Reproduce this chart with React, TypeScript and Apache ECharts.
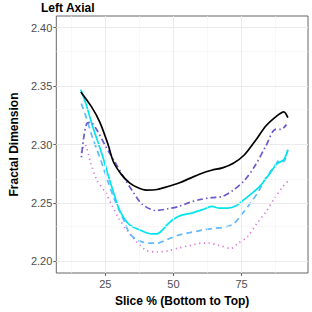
import React, { useEffect, useRef } from "react";
import * as echarts from "echarts";

const blackX = [16, 20, 23, 26, 28, 31, 34, 37, 40, 44, 48, 52, 56, 60, 64, 68, 72, 76, 80, 84, 88, 90.5, 92];
const blackY = [2.345, 2.332, 2.319, 2.300, 2.285, 2.274, 2.267, 2.263, 2.261, 2.2615, 2.264, 2.267, 2.271, 2.275, 2.278, 2.280, 2.284, 2.291, 2.303, 2.316, 2.3245, 2.328, 2.323];

const purpleX = [16.2, 17, 18.2, 19.5, 22, 25, 28.5, 32, 35, 38.5, 43.5, 48, 52, 56, 60, 64, 68, 72, 76, 80, 84, 87.5, 89.5, 91.5];
const purpleY = [2.289, 2.305, 2.318, 2.319, 2.312, 2.299, 2.285, 2.271, 2.260, 2.249, 2.2435, 2.245, 2.247, 2.2505, 2.253, 2.2545, 2.2555, 2.261, 2.269, 2.282, 2.299, 2.313, 2.313, 2.317];

const cyanX = [16, 18, 20, 22, 24, 26, 28, 30, 32, 34, 38, 42, 44, 46, 48, 50, 53, 57, 61, 64, 67, 70, 73, 76, 79, 82, 85, 88, 90.5, 92];
const cyanY = [2.347, 2.334, 2.318, 2.304, 2.290, 2.274, 2.259, 2.245, 2.2365, 2.231, 2.2265, 2.2235, 2.2235, 2.227, 2.232, 2.236, 2.2395, 2.2415, 2.2445, 2.247, 2.2455, 2.2455, 2.2475, 2.253, 2.2585, 2.265, 2.274, 2.2835, 2.287, 2.2955];

const blueX = [16.2, 18, 20, 22, 24, 26, 28, 30, 32, 34, 37, 40, 44, 48, 52, 56, 60, 64, 68, 72, 75, 78, 81, 84, 87, 89, 90.5, 92];
const blueY = [2.335, 2.323, 2.308, 2.295, 2.282, 2.268, 2.255, 2.244, 2.234, 2.2235, 2.218, 2.2158, 2.2155, 2.219, 2.2225, 2.2245, 2.2265, 2.228, 2.229, 2.232, 2.240, 2.249, 2.259, 2.2715, 2.281, 2.2865, 2.2855, 2.2955];

const pinkX = [16.2, 17.5, 19.5, 22, 25, 27.5, 30, 33, 36.5, 40, 44, 48, 52, 56, 60, 63, 67, 71, 74, 77, 80.5, 84, 87, 90, 92];
const pinkY = [2.293, 2.300, 2.285, 2.269, 2.259, 2.2475, 2.2365, 2.2265, 2.2165, 2.2095, 2.208, 2.209, 2.2115, 2.2135, 2.2155, 2.2155, 2.2135, 2.211, 2.216, 2.2205, 2.232, 2.2425, 2.2535, 2.2635, 2.2685];

const xTicks = [25, 50, 75];
const xMinor = [12.5, 37.5, 62.5, 87.5];
const yTicks = [2.2, 2.25, 2.3, 2.35, 2.4];
const yMinor = [2.225, 2.275, 2.325, 2.375];

const FONT = "'Liberation Sans', Arial, sans-serif";

function zip(xs: number[], ys: number[]) {
  return xs.map((x, i) => [x, ys[i]]);
}

export default function App() {
  const ref = useRef<HTMLDivElement>(null);
  useEffect(() => {
    if (!ref.current) return;
    document.body.style.margin = "0";
    const chart = echarts.init(ref.current, null, { renderer: "svg" });
    const gridMarks = (color: string, width: number, xs: number[], ys: number[]) => ({
      type: "line",
      data: [],
      silent: true,
      z: 0,
      markLine: {
        silent: true,
        symbol: "none",
        label: { show: false },
        lineStyle: { color, width, type: "solid" },
        data: [...xs.map((v) => ({ xAxis: v })), ...ys.map((v) => ({ yAxis: v }))],
      },
    });
    const lineSeries = (data: number[][], color: string, width: number, type: any, z: number) => ({
      type: "line",
      data,
      showSymbol: false,
      smooth: 0.3,
      z,
      lineStyle: { color, width, type, cap: "butt" },
    });
    chart.setOption({
      animation: false,
      graphic: [
        {
          type: "text",
          x: 41,
          y: 2,
          style: {
            text: "Left Axial",
            fontFamily: FONT,
            fontSize: 12,
            fontWeight: "bold",
            fill: "#000",
          },
        },
      ],
      grid: {
        left: 41,
        right: 4,
        top: 16,
        bottom: 29,
        show: true,
        borderColor: "#666",
        borderWidth: 1,
        backgroundColor: "transparent",
      },
      xAxis: {
        type: "value",
        min: 7,
        max: 99.4,
        name: "Slice % (Bottom to Top)",
        nameLocation: "middle",
        nameGap: 22,
        nameTextStyle: { fontFamily: FONT, fontSize: 12, fontWeight: "bold", color: "#000" },
        axisLine: { show: false },
        splitLine: { show: false },
        axisTick: { show: true, length: 3, lineStyle: { color: "#666" }, customValues: xTicks },
        axisLabel: {
          customValues: xTicks,
          fontFamily: FONT,
          fontSize: 11,
          color: "#4D4D4D",
          margin: 5,
        },
      },
      yAxis: {
        type: "value",
        min: 2.19,
        max: 2.41,
        name: "Fractal Dimension",
        nameLocation: "middle",
        nameGap: 33,
        nameRotate: 90,
        nameTextStyle: { fontFamily: FONT, fontSize: 12, fontWeight: "bold", color: "#000" },
        axisLine: { show: false },
        splitLine: { show: false },
        axisTick: { show: true, length: 3, lineStyle: { color: "#666" }, customValues: yTicks },
        axisLabel: {
          customValues: yTicks,
          fontFamily: FONT,
          fontSize: 11,
          color: "#4D4D4D",
          margin: 4,
          formatter: (v: number) => v.toFixed(2),
        },
      },
      series: [
        gridMarks("#F4F4F4", 0.6, xMinor, yMinor),
        gridMarks("#EBEBEB", 1, xTicks, yTicks),
        lineSeries(zip(pinkX, pinkY), "#DA70D6", 1.7, [1.2, 3.6], 2),
        lineSeries(zip(blueX, blueY), "#63B8FF", 1.7, [6, 4], 3),
        lineSeries(zip(cyanX, cyanY), "#00E5EE", 1.7, "solid", 4),
        lineSeries(zip(purpleX, purpleY), "#6A5ACD", 1.7, [1.5, 3, 6, 3], 5),
        lineSeries(zip(blackX, blackY), "#000000", 1.7, "solid", 6),
      ],
    });
    return () => chart.dispose();
  }, []);
  return <div ref={ref} style={{ position: "absolute", left: 0, top: 0, width: 312, height: 312 }} />;
}
